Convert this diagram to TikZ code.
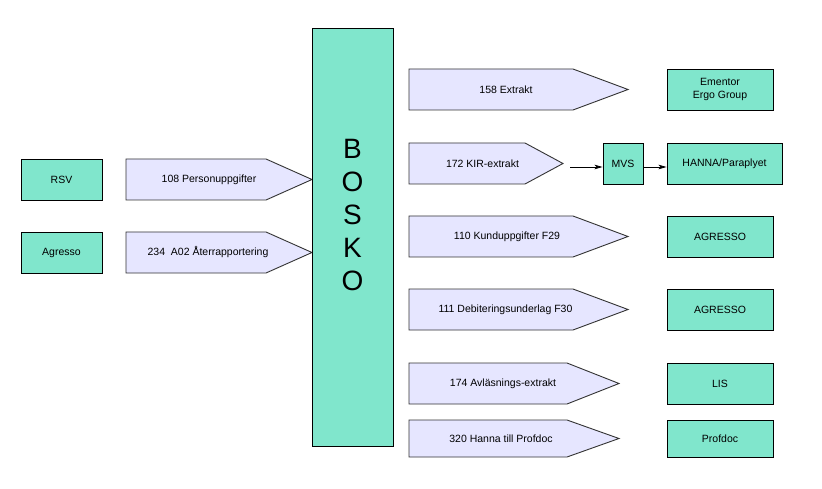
\documentclass[tikz,border=0pt]{standalone}
\usepackage{fontspec}
\setmainfont{Liberation Sans}
\usetikzlibrary{arrows.meta,calc}
\definecolor{mint}{HTML}{80E6CC}
\definecolor{lav}{HTML}{E6E6FF}
\newcommand\flowarrow[8]{%
  \draw[flowshape] (#2,#5) -- (#3,#5) -- (#4,{(#5+#6)/2}) -- (#3,#6) -- (#2,#6) -- cycle;
  \node (#1) at (#7,{(#5+#6)/2}) {#8};
  \coordinate (#1-tip) at (#4,{(#5+#6)/2});
}
\begin{document}
\begin{tikzpicture}[x=1pt,y=-1pt,
  every node/.style={font=\fontsize{10.5}{12.5}\selectfont, inner sep=0pt},
  sysbox/.style={draw=black, fill=mint, line width=0.9pt},
  flowshape/.style={draw=black!80, fill=lav, line width=0.9pt},
  flowlink/.style={-{Stealth[length=8pt,width=4.5pt,inset=2pt]}, line width=0.8pt}]
\useasboundingbox[fill=white] (0,0) rectangle (822,489);

% left systems
\node[sysbox, minimum width=81, minimum height=41] (rsv) at (61.5,179.5) {RSV};
\node[sysbox, minimum width=81, minimum height=41] (agresso) at (61.5,252.5) {Agresso};

% left flows
\flowarrow{f108}{126}{266}{312}{159}{200}{209}{108 Personuppgifter}
\flowarrow{f234}{126}{266}{312}{232}{273}{208}{234\ \ A02 Återrapportering}

% BOSKO
\node[sysbox, minimum width=81, minimum height=418] (bosko) at (352.5,237) {};
\node[font=\fontsize{28}{33}\selectfont, align=center] (boskolabel) at (352.5,215) {B\\O\\S\\K\\O};

% right flows
\flowarrow{f158}{409}{573}{628}{69}{110}{506}{158 Extrakt}
\flowarrow{f172}{409}{525}{563}{143}{184}{482.5}{172 KIR-extrakt}
\flowarrow{f110}{409}{573}{628}{216}{257}{507}{110 Kunduppgifter F29}
\flowarrow{f111}{409}{573}{628}{289}{330}{505.5}{111 Debiteringsunderlag F30}
\flowarrow{f174}{409}{567}{619}{363}{404}{503}{174 Avläsnings-extrakt}
\flowarrow{f320}{409}{567}{619}{420}{457}{501}{320 Hanna till Profdoc}

% right systems
\node[sysbox, minimum width=106, minimum height=41, align=center] (ementor) at (720,89.5) {Ementor\\Ergo Group};
\node[sysbox, minimum width=40, minimum height=41] (mvs) at (623,163.5) {MVS};
\node[sysbox, minimum width=115, minimum height=41] (hanna) at (724.5,163.5) {HANNA/Paraplyet};
\node[sysbox, minimum width=106, minimum height=41] (agr1) at (720,236.5) {AGRESSO};
\node[sysbox, minimum width=106, minimum height=41] (agr2) at (720,309.5) {AGRESSO};
\node[sysbox, minimum width=106, minimum height=41] (lis) at (720,383.5) {LIS};
\node[sysbox, minimum width=106, minimum height=37] (profdoc) at (720,438.5) {Profdoc};

% connectors
\coordinate (kirout) at (570,167);
\draw[flowlink] (kirout) -- (mvs.west |- kirout);
\draw[flowlink] ([yshift=-3.5pt]mvs.east) -- ([yshift=-3.5pt]hanna.west);
\end{tikzpicture}
\end{document}
